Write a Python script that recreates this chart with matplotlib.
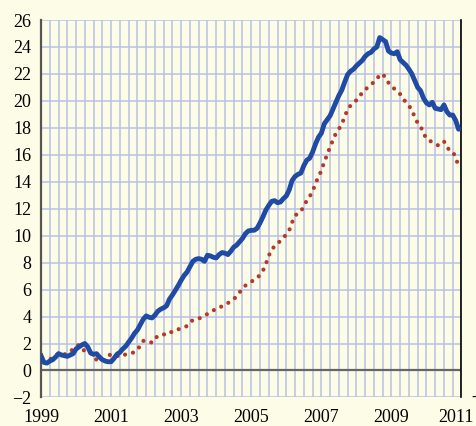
import numpy as np
import matplotlib
matplotlib.use("Agg")
import matplotlib.pyplot as plt
from matplotlib.path import Path

# monthly values, Jan 1999 .. Dec 2010
blue = [1.1, 0.6, 0.55, 0.7, 0.8, 1.0, 1.25, 1.15, 1.1, 1.05, 1.15, 1.25,
        1.6, 1.75, 1.9, 2.0, 1.75, 1.3, 1.2, 1.25, 1.0, 0.8, 0.7, 0.65,
        0.65, 0.9, 1.2, 1.35, 1.6, 1.8, 2.1, 2.4, 2.75, 3.0, 3.4, 3.8,
        4.05, 3.95, 3.9, 4.1, 4.4, 4.55, 4.65, 4.8, 5.3, 5.6, 5.95, 6.3,
        6.7, 7.05, 7.3, 7.7, 8.1, 8.25, 8.3, 8.25, 8.1, 8.55, 8.5, 8.4,
        8.35, 8.6, 8.75, 8.7, 8.6, 8.85, 9.15, 9.3, 9.55, 9.8, 10.15, 10.35,
        10.4, 10.4, 10.55, 10.95, 11.4, 11.9, 12.25, 12.55, 12.6, 12.45, 12.5, 12.75,
        12.95, 13.4, 14.1, 14.4, 14.55, 14.65, 15.2, 15.6, 15.75, 16.2, 16.8, 17.3,
        17.6, 18.3, 18.6, 18.9, 19.4, 19.9, 20.4, 20.8, 21.4, 21.95, 22.2, 22.35,
        22.6, 22.8, 23.0, 23.3, 23.5, 23.6, 23.85, 24.0, 24.7, 24.55, 24.4, 23.7,
        23.55, 23.5, 23.65, 23.05, 22.85, 22.65, 22.35, 22.0, 21.5, 21.0, 20.75, 20.2,
        19.85, 19.7, 19.9, 19.45, 19.4, 19.35, 19.7, 19.2, 18.95, 18.95, 18.55, 17.9]

red = [1.2, 0.6, 0.7, 0.8, 1.0, 1.2, 1.15, 1.1, 1.2, 1.25, 1.4, 1.6,
       1.8, 1.9, 1.7, 1.4, 1.3, 1.3, 1.0, 0.8, 0.7, 0.7, 0.9, 1.1,
       1.2, 1.15, 1.1, 1.0, 1.1, 1.2, 1.25, 1.3, 1.35, 1.6, 1.8, 2.2,
       2.15, 2.05, 2.1, 2.45, 2.5, 2.5, 2.65, 2.85, 2.85, 2.85, 2.9, 3.05,
       3.15, 3.2, 3.3, 3.55, 3.75, 3.8, 3.85, 3.95, 4.05, 4.2, 4.3, 4.45,
       4.6, 4.7, 4.75, 4.9, 5.0, 5.15, 5.3, 5.5, 5.8, 6.05, 6.3, 6.45,
       6.6, 6.7, 6.85, 7.1, 7.4, 7.9, 8.5, 9.0, 9.2, 9.45, 9.6, 9.85,
       10.1, 10.4, 11.0, 11.5, 11.65, 11.8, 12.2, 12.6, 12.9, 13.3, 13.85, 14.4,
       14.8, 15.5, 16.0, 16.6, 17.1, 17.6, 17.9, 18.3, 18.8, 19.4, 19.65, 19.85,
       20.05, 20.25, 20.65, 20.85, 21.0, 21.2, 21.4, 21.6, 21.95, 22.0, 21.7, 21.35,
       21.1, 20.9, 20.7, 20.5, 20.15, 19.9, 19.65, 19.3, 18.8, 18.35, 18.1, 17.6,
       17.2, 17.05, 16.95, 16.85, 16.7, 16.9, 17.0, 16.55, 16.35, 16.25, 15.8, 15.15]

years = [1999, 2001, 2003, 2005, 2007, 2009, 2011]
yticks = list(range(-2, 27, 2))

t = 1999 + np.arange(len(blue)) / 12.0

bg = "#FDFCE6"
grid_c = "#B9C0E3"

plt.rcParams["font.family"] = "Liberation Serif"
plt.rcParams["font.size"] = 13

fig = plt.figure(figsize=(4.77, 4.26), dpi=100, facecolor=bg)
ax = fig.add_axes([0.086, 0.067, 0.8815, 0.886])
ax.set_facecolor(bg)

ax.set_xlim(1999, 2011)
ax.set_ylim(-2, 26)

# grid
for q in np.arange(1999, 2011.01, 0.25):
    ax.axvline(q, color=grid_c, lw=1.1, zorder=1)
for v in yticks:
    ax.axhline(v, color=grid_c, lw=1.1, zorder=1)
ax.axhline(0, color="#666666", lw=1.6, zorder=2)

ax.plot(t, red, color="#B5382E", lw=3.0, linestyle=(0, (0.01, 1.95)),
        dash_capstyle="round", zorder=3)
ax.plot(t, blue, color="#1F4BA5", lw=3.5, solid_capstyle="round", zorder=4)

for s in ["top", "bottom"]:
    ax.spines[s].set_visible(False)
ax.spines["left"].set_color("#555555")
ax.spines["left"].set_linewidth(1.6)
ax.spines["right"].set_color("black")
ax.spines["right"].set_linewidth(1.2)

ax.set_yticks(yticks)
ax.set_xticks(years)
# last year label is pushed in so it fits the frame
ax.set_xticklabels([str(y) for y in years[:-1]] + [""])
ax.tick_params(axis="both", length=0)
ax.tick_params(axis="y", pad=7)
ax.tick_params(axis="x", pad=8)
ax.annotate(str(years[-1]), xy=(years[-1], 0), xycoords=ax.get_xaxis_transform(),
            xytext=(8.5, -8), textcoords="offset points",
            ha="right", va="top", fontsize=13, annotation_clip=False)

# odd little bracket ticks under the axis
tick_shape = Path([(4, 0), (0, 0), (0, -7)], [Path.MOVETO, Path.LINETO, Path.LINETO])
qs = np.arange(1999, 2011.01, 0.25)
ax.plot(qs, np.full(len(qs), -0.09), linestyle="none", marker=tick_shape,
        markersize=10, markerfacecolor="none", markeredgecolor="#444444",
        markeredgewidth=0.8, transform=ax.get_xaxis_transform(), clip_on=False)

ax.text(1.024, 0.0, "-", transform=ax.transAxes, ha="left", va="center")

fig.savefig("out.png", dpi=100, facecolor=bg)
